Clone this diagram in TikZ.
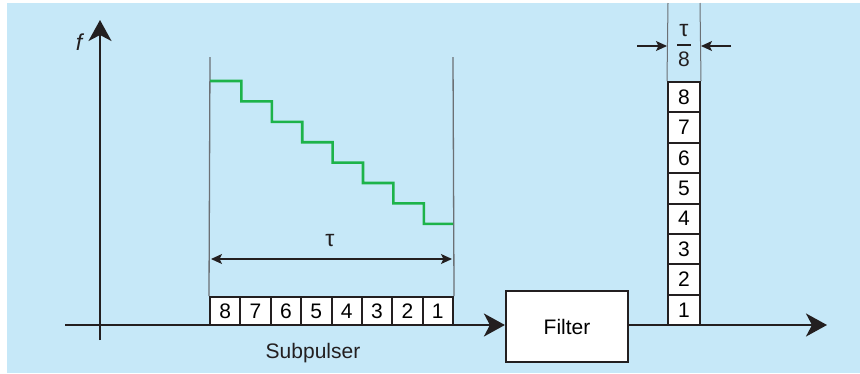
\documentclass[tikz,border=0pt]{standalone}
\usepackage{fontspec}
\setmainfont{Liberation Sans}
\usetikzlibrary{arrows.meta}
\definecolor{bg}{HTML}{C6E8F8}
\definecolor{ink}{HTML}{231F20}
\definecolor{guide}{HTML}{6B7075}
\definecolor{chirp}{HTML}{1DB34A}
\tikzset{
  axisline/.style={line width=2.2pt, draw=ink},
  bigtip/.style={-{Stealth[length=21pt,width=23pt,inset=6pt]}},
  cell/.style={draw=ink, line width=2pt, fill=white, inner sep=0pt, font=\fontsize{21}{21}\selectfont},
  guideline/.style={draw=guide, line width=1.3pt},
  dimline/.style={draw=ink, line width=1.2pt},
  lbl/.style={inner sep=0pt, font=\fontsize{21}{21}\selectfont, text=ink}
}
\begin{document}
\begin{tikzpicture}[x=1pt,y=-1pt]
\useasboundingbox (0,0) rectangle (860,373);
\fill[white] (0,0) rectangle (860,373);
\fill[bg] (7,3) rectangle (860,373);
% f axis
\coordinate (fbot) at (100,340);
\coordinate (ftop) at (100,20);
\draw[axisline,bigtip] (fbot) -- (ftop);
\node[inner sep=0pt, text=ink, font=\fontsize{23}{23}\selectfont\itshape] (flab) at (79,42) {f};
% guide lines
\coordinate (gl1) at (210,57);
\coordinate (gl2) at (453,57);
% subpulse cells
\foreach \n [count=\i from 0] in {8,7,6,5,4,3,2,1} {
  \node[cell, minimum width=30.4pt, minimum height=28pt] (s\n) at ({225.2+30.375*\i},311) {\n};
}
\draw[guideline] (gl1) -- (s8.north west);
\draw[guideline] (gl2) -- (s1.north east);
% green staircase
\draw[chirp, line width=2.6pt, line join=miter]
  (210,81) -- ++(31.4,0) -- ++(0,20.4) -- ++(30.4,0) -- ++(0,20.4) -- ++(30.4,0) -- ++(0,20.4)
  -- ++(30.4,0) -- ++(0,20.4) -- ++(30.4,0) -- ++(0,20.4) -- ++(30.4,0) -- ++(0,20.4)
  -- ++(30.4,0) -- ++(0,20.4) -- (453,223.8);
% tau dimension
\coordinate (tl) at (211,259);
\coordinate (tr) at (452,259);
\draw[dimline,{Stealth[length=11pt,width=10pt,inset=2.5pt]}-{Stealth[length=11pt,width=10pt,inset=2.5pt]}] (tl) -- (tr);
\node[lbl, font=\fontsize{23}{23}\selectfont] (tau) at (330,241) {τ};
% main axis and filter
\node[draw=ink, line width=2.2pt, fill=white, minimum width=122pt, minimum height=71pt, inner sep=0pt,
      font=\fontsize{21}{21}\selectfont] (filter) at (567,326.5) {Filter};
\coordinate (axL) at (65,325);
\draw[axisline,bigtip] (axL) -- (axL -| filter.west);
\coordinate (axR) at (827,325);
\draw[axisline,bigtip] (axR -| filter.east) -- (axR);
% output column
\foreach \n [count=\i from 0] in {8,7,6,5,4,3,2,1} {
  \node[cell, minimum width=32pt, minimum height=30.4pt] (o\n) at (684,{97.2+30.375*\i}) {\n};
}
\coordinate (ol) at (668,3);
\coordinate (or) at (700,3);
\draw[guideline, line width=1pt] (ol) -- (o8.north west);
\draw[guideline, line width=1pt] (or) -- (o8.north east);
\node[lbl, font=\fontsize{23}{23}\selectfont] (fnum) at (684,31) {τ};
\node[lbl] (fden) at (684,59) {8};
\coordinate (fbl) at (677,45);
\coordinate (fbr) at (691,45);
\draw[draw=ink, line width=1.2pt] (fbl) -- (fbr);
\coordinate (al) at (637,46);
\coordinate (ar) at (731,46);
\draw[dimline,-{Stealth[length=11pt,width=10pt,inset=2.5pt]}] (al) -- (667,46);
\draw[dimline,-{Stealth[length=11pt,width=10pt,inset=2.5pt]}] (ar) -- (701,46);
% label
\node[lbl] (sub) at (313,353) {Subpulser};
\end{tikzpicture}
\end{document}
